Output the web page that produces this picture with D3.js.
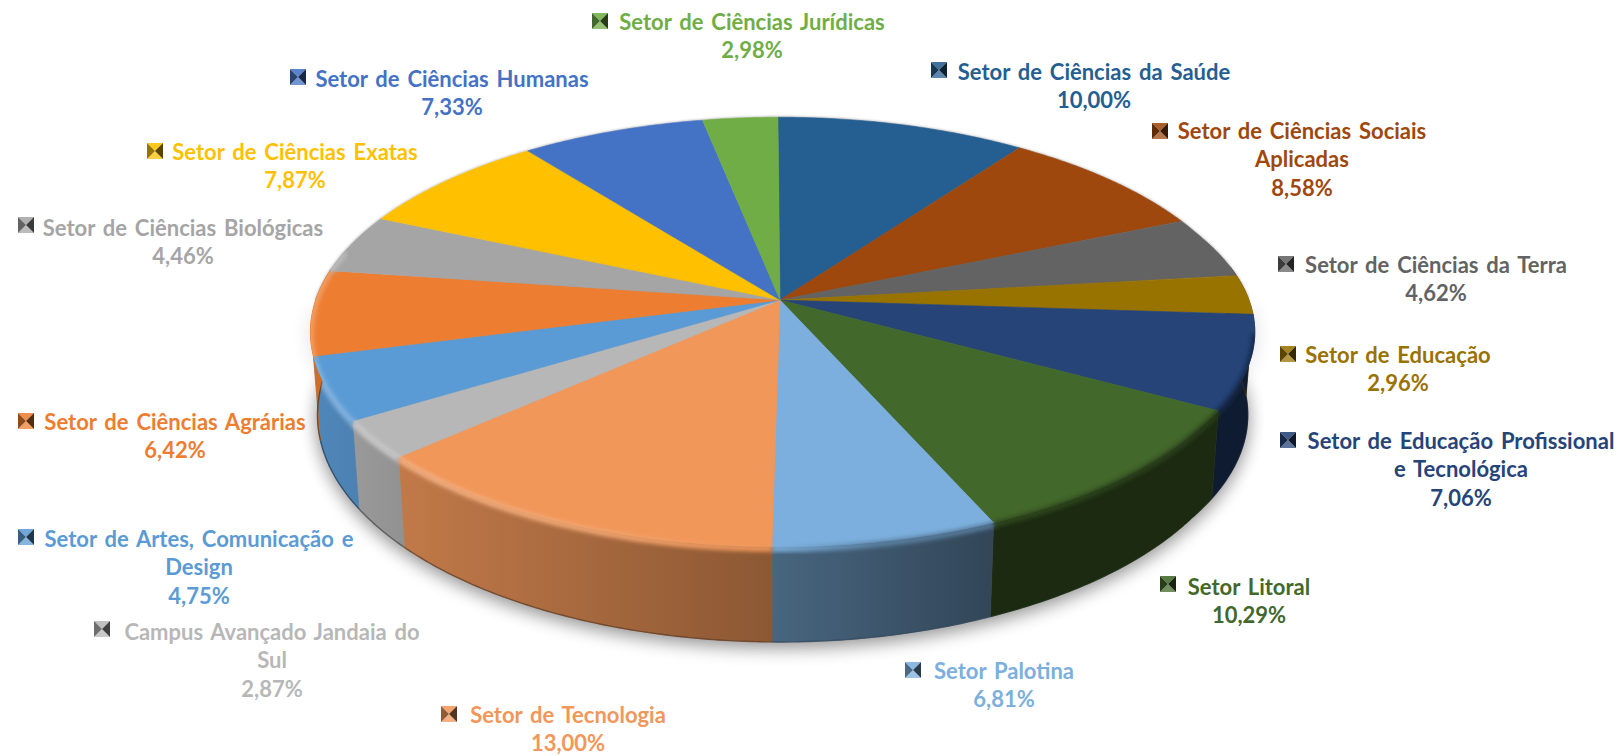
<!DOCTYPE html>
<html><head><meta charset="utf-8">
<style>html,body{margin:0;padding:0;background:#fff;overflow:hidden}svg{display:block}text{font-family:Lato,"Open Sans",sans-serif;font-weight:700}</style>
<script src="https://cdn.jsdelivr.net/npm/d3@7/dist/d3.min.js"></script>
</head><body><svg id="c" width="1621" height="756"></svg>
<script>
const categoryLines = [
 ["Setor de Ciências da Saúde"],
 ["Setor de Ciências Sociais","Aplicadas"],
 ["Setor de Ciências da Terra"],
 ["Setor de Educação"],
 ["Setor de Educação Profissional","e Tecnológica"],
 ["Setor Litoral"],
 ["Setor Palotina"],
 ["Setor de Tecnologia"],
 ["Campus Avançado Jandaia do","Sul"],
 ["Setor de Artes, Comunicação e","Design"],
 ["Setor de Ciências Agrárias"],
 ["Setor de Ciências Biológicas"],
 ["Setor de Ciências Exatas"],
 ["Setor de Ciências Humanas"],
 ["Setor de Ciências Jurídicas"]
];
const values = [10.00,8.58,4.62,2.96,7.06,10.29,6.81,13.00,2.87,4.75,6.42,4.46,7.87,7.33,2.98];
const colors = ["#255E91","#9E480E","#636363","#997300","#264478","#43682B","#7CAFDD","#F1975A","#B7B7B7","#5B9BD5","#ED7D31","#A5A5A5","#FFC000","#4472C4","#70AD47"];

// label layout: text centre x, first line centre y, marker centre x, marker centre y
const labelLayout = [
 [1094,72,939,70],[1302,131,1160,131],[1436,265,1286,264],[1398,355,1288,354],[1461,441,1288,440],
 [1249,587,1168,584],[1004,671,913,670],[568,715,449,714],[272,632,102,629],[199,539,26,537],
 [175,422,26,421],[183,228,26,225],[295,152,155,151],[452,79,298,77],[752,22,600,21]
];
const FONT=22, LINE=28.6, MARK=16;

const W=1621,H=756;
const cx=780,cy=300,A=469,B=210,persp=0.149,D=81,rot=-0.3*Math.PI/180;
const sx=d3.scaleLinear().domain([-1,0,.5,.9,1]).range([cx-A*0.99,cx,cx+A*.49,cx+A*.89,cx+A]);
const sy=d3.scaleLinear().domain([-1,1]).range([cy+B,cy-B]);
const proj=(t0,level=0)=>{
  const t=t0+rot,X=Math.sin(t),Y=Math.cos(t),d=1+persp*Y;
  const px=(sx(X/d)-cx)*(1-level*0.015)+cx;
  return [px, sy(Y/d)+level*D/d];
};
const arcs=d3.pie().sort(null).startAngle(0).endAngle(2*Math.PI)(values);
const samples=(a,b)=>{const n=Math.max(2,Math.ceil((b-a)/0.01));return d3.range(n+1).map(i=>a+(b-a)*i/n);};
const line=d3.line();
const svg=d3.select("#c");
const defs=svg.append("defs");
const blur=(id,s)=>defs.append("filter").attr("id",id).attr("x","-10%").attr("y","-20%").attr("width","120%").attr("height","140%")
  .append("feGaussianBlur").attr("stdDeviation",s);
blur("shadow",9);blur("soft",2.2);blur("edge",1.1);

const full=samples(0,2*Math.PI);
const topRing=full.map(t=>proj(t,0));
const botRing=full.map(t=>proj(t,1));
const front=samples(Math.PI*0.5,Math.PI*1.5);
const hull=front.map(t=>proj(t,0)).concat(front.slice().reverse().map(t=>proj(t,1)));
const clip=defs.append("clipPath").attr("id","sil");
clip.append("path").attr("d",line(topRing)+"Z");
clip.append("path").attr("d",line(botRing)+"Z");
clip.append("path").attr("d",line(hull)+"Z");

// shadow
svg.append("path").attr("d",line(botRing)+"Z").attr("fill","#000").attr("opacity",.32).attr("filter","url(#shadow)").attr("transform","translate(0,7)");
svg.append("path").attr("d",line(hull)+"Z").attr("fill","#000").attr("opacity",.18).attr("filter","url(#shadow)");

const mul=(c,f)=>{const r=d3.rgb(c);return d3.rgb(r.r*f,r.g*f,r.b*f).formatHex();};
const mix=(c,f)=>d3.interpolateRgb(c,"#fff")(f);
const X0=cx-474,X1=cx+474;
const wallStops=[[0,.88],[.10,.8],[.49,.58],[.72,.4],[1,.4]];
const grad=(id,stops)=>{const g=defs.append("linearGradient").attr("id",id).attr("gradientUnits","userSpaceOnUse")
  .attr("x1",X0).attr("x2",X1).attr("y1",0).attr("y2",0);
  stops.forEach(s=>g.append("stop").attr("offset",s[0]).attr("stop-color",s[1]));};
arcs.forEach((a,i)=>{
  const c=colors[i];
  grad("w"+i,wallStops.map(s=>[s[0],mul(c,s[1])]));
  grad("r"+i,[[0,mix(c,.26)],[.12,mix(c,.24)],[.3,mix(c,.16)],[.42,mix(c,.05)],[.5,c],[.6,mul(c,.74)],[1,mul(c,.58)]]);
});

// walls
const lo=Math.PI*0.45,hi=Math.PI*1.55;
const wallG=svg.append("g");
arcs.forEach((a,i)=>{
  const s=Math.max(a.startAngle,lo),e=Math.min(a.endAngle,hi);
  if(e<=s)return;
  const ts=samples(s,e);
  const poly=ts.map(t=>proj(t,0)).concat(ts.slice().reverse().map(t=>proj(t,1)));
  wallG.append("path").attr("d",line(poly)+"Z").attr("fill",`url(#w${i})`).attr("stroke",`url(#w${i})`).attr("stroke-width",.5);
});
// lower wall edge
arcs.forEach((a,i)=>{
  const s=Math.max(a.startAngle,lo),e=Math.min(a.endAngle,hi);
  if(e<=s)return;
  wallG.append("path").attr("d",line(samples(s,e).map(t=>proj(t,1)))).attr("fill","none").attr("stroke",mul(colors[i],.42)).attr("stroke-width",1.4).attr("opacity",.8);
});

// back rim soft edge
svg.append("path").attr("d",line(samples(Math.PI*1.5,Math.PI*2.5).map(t=>proj(t,0)))).attr("fill","none").attr("stroke","#555").attr("stroke-width",1.4).attr("opacity",.5).attr("filter","url(#edge)");

// faces
const faces=svg.append("g");
arcs.forEach((a,i)=>{
  const pts=[[cx,cy]].concat(samples(a.startAngle,a.endAngle).map(t=>proj(t,0)));
  faces.append("path").attr("d",line(pts)+"Z").attr("fill",colors[i]).attr("stroke",colors[i]).attr("stroke-width",.6);
});

// bevel along the front rim
const bevel=svg.append("g").attr("clip-path","url(#sil)");
const bl=Math.PI*0.55,bh=Math.PI*1.58;
arcs.forEach((a,i)=>{
  const s=Math.max(a.startAngle,bl),e=Math.min(a.endAngle,bh);
  if(e<=s)return;
  bevel.append("path").attr("d",line(samples(s,e).map(t=>proj(t,0.02))))
    .attr("fill","none").attr("stroke",`url(#r${i})`).attr("stroke-width",6).attr("filter","url(#soft)");
});

// labels
const pct=d3.formatLocale({decimal:",",thousands:".",grouping:[3],currency:["",""]}).format(".2f");
const labels=svg.append("g");
arcs.forEach((a,i)=>{
  const [tx,ty,mx,my]=labelLayout[i],c=colors[i];
  const rows=categoryLines[i].concat([pct(values[i])+"%"]);
  labels.selectAll(null).data(rows).enter().append("text")
    .attr("x",tx).attr("y",(d,k)=>ty+k*LINE).attr("dy","0.35em").attr("text-anchor","middle")
    .attr("font-size",FONT).attr("word-spacing",2.5).attr("fill",c).text(d=>d);
  const h=MARK/2;
  const tri=[
    [[mx-h,my-h],[mx+h,my-h],[mx,my],mix(c,.12)],
    [[mx-h,my+h],[mx+h,my+h],[mx,my],mix(c,.25)],
    [[mx-h,my-h],[mx-h,my+h],[mx,my],mul(c,.6)],
    [[mx+h,my-h],[mx+h,my+h],[mx,my],mul(c,.35)]
  ];
  tri.forEach(t=>labels.append("path").attr("d",line(t.slice(0,3))+"Z").attr("fill",t[3]));
});
</script></body></html>
